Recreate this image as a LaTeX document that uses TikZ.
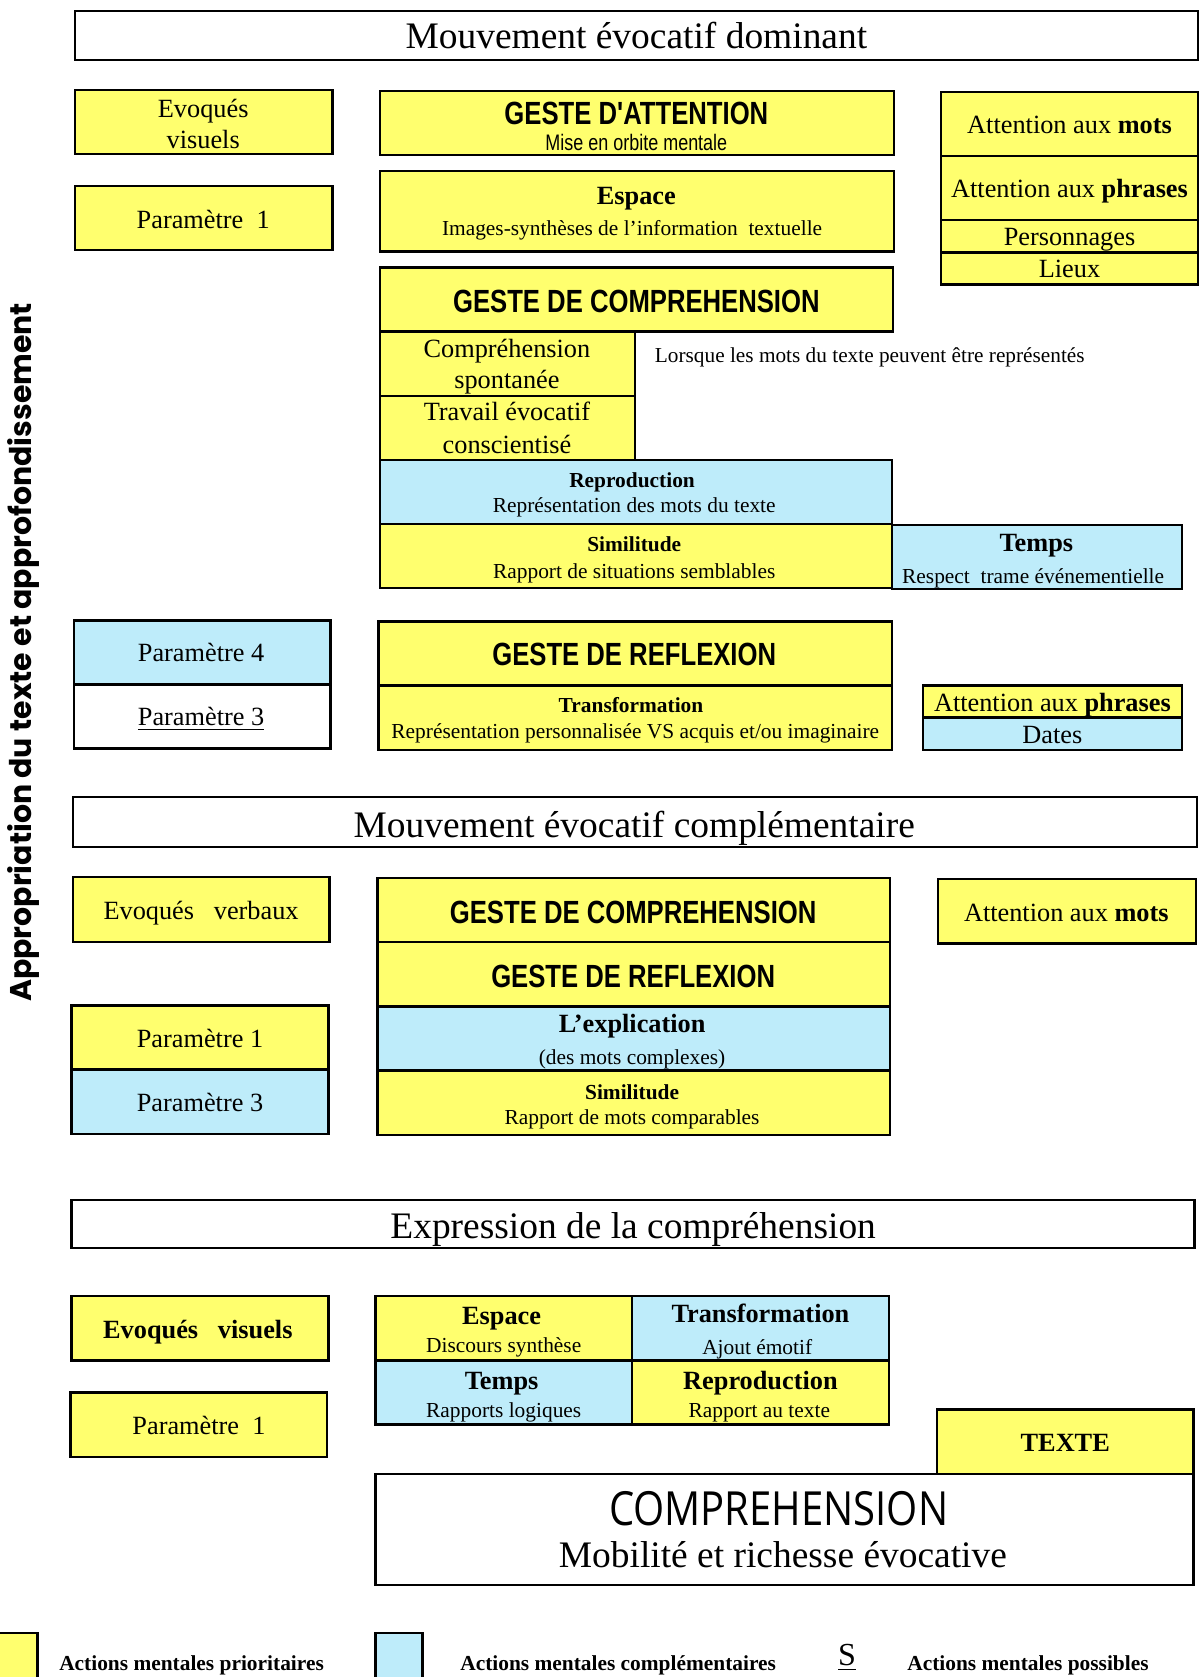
\documentclass[tikz,border=0pt]{standalone}
\usepackage{fontspec}
\setmainfont{Liberation Serif}
\newfontfamily\narrowsans[FakeStretch=0.8]{Liberation Sans}
\newfontfamily\sidefont{Poppins}
\newfontfamily\titlefont[FakeStretch=0.85]{Open Sans}
\usetikzlibrary{fit}
\definecolor{yel}{RGB}{255,255,110}
\definecolor{blu}{RGB}{190,236,250}

\begin{document}
\begin{tikzpicture}[x=0.5pt,y=-0.5pt,
  box/.style={draw=black, line width=1.1pt, inner sep=0pt, outer sep=0pt},
  yb/.style={box, fill=yel},
  bb/.style={box, fill=blu},
  wb/.style={box, fill=white},
  lbl/.style={anchor=base, inner sep=0pt, yshift=-0.8pt, font=\fontsize{12.3}{14}\selectfont},
  lblb/.style={lbl, font=\fontsize{12.3}{14}\selectfont\bfseries},
  sub/.style={lbl, font=\fontsize{10}{12}\selectfont},
  subb/.style={lbl, font=\fontsize{10}{12}\selectfont\bfseries},
  head/.style={lbl, font=\fontsize{17.5}{20}\selectfont},
  geste/.style={lbl, font=\narrowsans\bfseries\fontsize{15}{18}\selectfont},
  gsub/.style={lbl, font=\narrowsans\fontsize{10.5}{12}\selectfont},
  legtxt/.style={anchor=base west, inner sep=0pt, yshift=-0.8pt, font=\fontsize{10}{12}\selectfont\bfseries},
]
\useasboundingbox (0,0) rectangle (1121,1568);
\clip (0,0) rectangle (1121,1568);

% ---------- Mouvement évocatif dominant ----------
\node[wb, fit={(70,10)(1120,56)}] (hdA) {};
\node[head] (hdAt) at (595,44) {Mouvement évocatif dominant};

\node[yb, fit={(70,84)(311,144)}] (evA) {};
\node[lbl] (evA1) at (190,108) {Evoqués};
\node[lbl] (evA2) at (190,137) {visuels};
\node[yb, fit={(70,174)(311,234)}] (pA1) {};
\node[lbl] (pA1t) at (190,212) {Paramètre\ \ 1};

\node[yb, fit={(355,85)(836,145)}] (att) {};
\node[geste] (att1) at (595,115) {GESTE D'ATTENTION};
\node[gsub] (att2) at (595,139) {Mise en orbite mentale};
\node[yb, fit={(355,160)(836,235)}] (esp) {};
\node[lblb] (esp1) at (595,190) {Espace};
\node[sub] (esp2) at (591,219) {Images-synthèses de l'information\ \ textuelle};

\node[yb, fit={(880,86)(1120,146)}] (amA) {};
\node[lbl] (amAt) at (1000,123) {Attention aux \textbf{mots}};
\node[yb, fit={(880,146)(1120,206)}] (apA) {};
\node[lbl] (apAt) at (1000,183) {Attention aux \textbf{phrases}};
\node[yb, fit={(880,206)(1120,236)}] (pers) {};
\node[lbl] (perst) at (1000,228) {Personnages};
\node[yb, fit={(880,236)(1120,266)}] (lieux) {};
\node[lbl] (lieuxt) at (1000,258) {Lieux};

\node[yb, fit={(355,250)(835,310)}] (gcA) {};
\node[geste] (gcAt) at (595,291) {GESTE DE COMPREHENSION};
\node[yb, fit={(355,310)(594,370)}] (csp) {};
\node[lbl] (csp1) at (474,333) {Compréhension};
\node[lbl] (csp2) at (474,362) {spontanée};
\node[yb, fit={(355,370)(594,430)}] (trv) {};
\node[lbl] (trv1) at (474,392) {Travail évocatif};
\node[lbl] (trv2) at (474,422) {conscientisé};
\node[anchor=base west, inner sep=0pt, yshift=-0.8pt, font=\fontsize{9.95}{12}\selectfont] (note) at (612,337)
  {Lorsque les mots du texte peuvent être représentés};

\node[bb, fit={(355,430)(834,490)}] (repA) {};
\node[subb] (repA1) at (591,454) {Reproduction};
\node[sub] (repA2) at (593,478) {Représentation des mots du texte};
\node[yb, fit={(355,490)(834,550)}] (simA) {};
\node[subb] (simA1) at (593,514) {Similitude};
\node[sub] (simA2) at (593,539) {Rapport de situations semblables};
\node[bb, fit={(834,491)(1105,551)}] (tpsA) {};
\node[lblb] (tpsA1) at (969,514) {Temps};
\node[sub] (tpsA2) at (966,544) {Respect\ \ trame événementielle};

\node[bb, fit={(69,580)(309,640)}] (pA4) {};
\node[lbl] (pA4t) at (188,617) {Paramètre 4};
\node[wb, fit={(69,640)(309,700)}] (pA3) {};
\node[lbl] (pA3t) at (188,677) {\underline{Paramètre 3}};

\node[yb, fit={(354,581)(834,641)}] (grA) {};
\node[geste] (grAt) at (593,621) {GESTE DE REFLEXION};
\node[yb, fit={(354,641)(834,701)}] (trA) {};
\node[subb] (trA1) at (590,665) {Transformation};
\node[sub] (trA2) at (594,689) {Représentation personnalisée VS acquis et/ou imaginaire};

\node[yb, fit={(863,641)(1105,671)}] (apB) {};
\node[lbl] (apBt) at (984,664) {Attention aux \textbf{phrases}};
\node[bb, fit={(863,671)(1105,701)}] (dates) {};
\node[lbl] (datest) at (984,694) {Dates};

% ---------- Mouvement évocatif complémentaire ----------
\node[wb, fit={(68,745)(1119,792)}] (hdB) {};
\node[head] (hdBt) at (593,781) {Mouvement évocatif complémentaire};

\node[yb, fit={(68,820)(308,881)}] (evB) {};
\node[lbl] (evBt) at (188,858) {Evoqués\ \ \ verbaux};

\node[yb, fit={(353,821)(832,881)}] (gcB) {};
\node[geste] (gcBt) at (592,862) {GESTE DE COMPREHENSION};
\node[yb, fit={(353,881)(832,941)}] (grB) {};
\node[geste] (grBt) at (592,922) {GESTE DE REFLEXION};
\node[bb, fit={(353,941)(832,1001)}] (expl) {};
\node[lblb] (expl1) at (591,964) {L'explication};
\node[sub] (expl2) at (591,994) {(des mots complexes)};
\node[yb, fit={(353,1001)(832,1061)}] (simB) {};
\node[subb] (simB1) at (591,1026) {Similitude};
\node[sub] (simB2) at (591,1050) {Rapport de mots comparables};

\node[yb, fit={(877,822)(1118,882)}] (amB) {};
\node[lbl] (amBt) at (997,860) {Attention aux \textbf{mots}};

\node[yb, fit={(67,940)(307,1000)}] (pB1) {};
\node[lbl] (pB1t) at (187,978) {Paramètre 1};
\node[bb, fit={(67,1000)(307,1060)}] (pB3) {};
\node[lbl] (pB3t) at (187,1038) {Paramètre 3};

% ---------- Expression de la compréhension ----------
\node[wb, fit={(67,1122)(1117,1167)}] (hdC) {};
\node[head] (hdCt) at (592,1156) {Expression de la compréhension};

\node[yb, fit={(67,1212)(307,1272)}] (evC) {};
\node[lblb] (evCt) at (185,1250) {Evoqués\ \ \ visuels};
\node[yb, fit={(66,1302)(306,1362)}] (pC1) {};
\node[lbl] (pC1t) at (186,1340) {Paramètre\ \ 1};

\node[yb, fit={(351,1212)(591,1272)}] (gEsp) {};
\node[lblb] (gEsp1) at (469,1237) {Espace};
\node[sub] (gEsp2) at (471,1263) {Discours synthèse};
\node[bb, fit={(591,1212)(831,1272)}] (gTr) {};
\node[lblb] (gTr1) at (711,1235) {Transformation};
\node[sub] (gTr2) at (708,1265) {Ajout émotif};
\node[bb, fit={(351,1272)(591,1332)}] (gTp) {};
\node[lblb] (gTp1) at (469,1298) {Temps};
\node[sub] (gTp2) at (471,1324) {Rapports logiques};
\node[yb, fit={(591,1272)(831,1332)}] (gRp) {};
\node[lblb] (gRp1) at (711,1298) {Reproduction};
\node[sub] (gRp2) at (710,1324) {Rapport au texte};

\node[yb, fit={(876,1318)(1116,1378)}] (texte) {};
\node[lblb] (textet) at (996,1356) {TEXTE};
\node[wb, fit={(351,1378)(1116,1482)}] (comp) {};
\node[lbl, font=\titlefont\fontsize{22}{26}\selectfont] (comp1) at (728,1425) {COMPREHENSION};
\node[head] (comp2) at (732,1464) {Mobilité et richesse évocative};

% ---------- side title ----------
\node[rotate=90, inner sep=0pt, font=\sidefont\bfseries\fontsize{14}{17}\selectfont] (side) at (22,610)
  {Appropriation du texte et approfondissement};

% ---------- legend ----------
\node[yb, fit={(-5,1527)(35,1580)}] (legY) {};
\node[legtxt] (legYt) at (55,1560) {Actions mentales prioritaires};
\node[bb, fit={(351,1527)(395,1580)}] (legB) {};
\node[legtxt] (legBt) at (430,1560) {Actions mentales complémentaires};
\node[lbl, font=\fontsize{15}{18}\selectfont] (legS) at (792,1556) {\underline{S}};
\node[legtxt] (legSt) at (848,1560) {Actions mentales possibles};
\end{tikzpicture}
\end{document}
